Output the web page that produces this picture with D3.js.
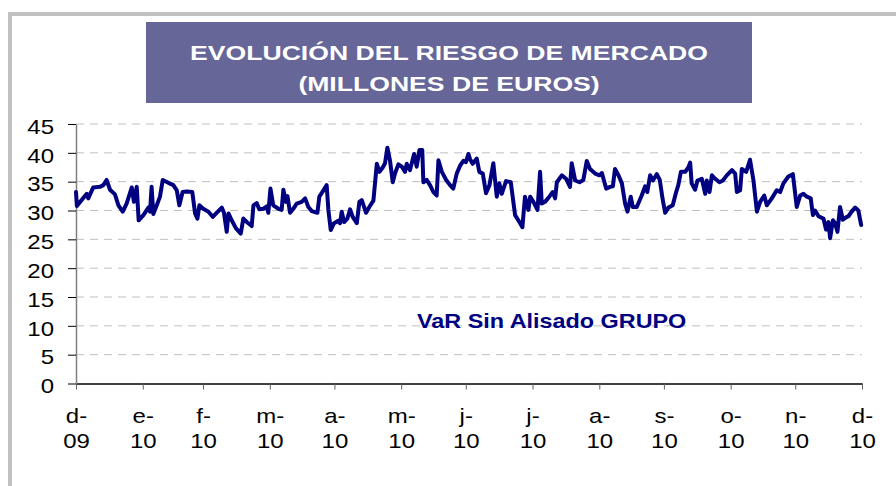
<!DOCTYPE html>
<html><head><meta charset="utf-8">
<script src="https://cdn.jsdelivr.net/npm/d3@7"></script>
<style>html,body{margin:0;padding:0;background:#fff;} svg{display:block;}</style>
</head><body><svg id="chart" width="896" height="486"></svg>
<script>
const titleLines = ["EVOLUCIÓN DEL RIESGO DE MERCADO", "(MILLONES DE EUROS)"];
const seriesName = "VaR Sin Alisado GRUPO";
const yTickValues = [0, 5, 10, 15, 20, 25, 30, 35, 40, 45];
const xTickMonths = ["d-", "e-", "f-", "m-", "a-", "m-", "j-", "j-", "a-", "s-", "o-", "n-", "d-"];
const xTickYears = ["09", "10", "10", "10", "10", "10", "10", "10", "10", "10", "10", "10", "10"];
const startDate = new Date(2009, 11, 31);
const endDate = new Date(2010, 11, 31);
// [days after 31-Dec-2009, VaR in millions of euros]
const varSeries = [
[0,33.2],[0.4,30.8],[5,32.9],[5.7,32.1],[8,34],[11.1,34.1],[12.7,34.4],[14.2,35.3],[15.8,33.6],[18.1,32.8],
[19.7,30.9],[21.7,29.8],[23.5,31.2],[25.9,34],[26.9,31.5],[28.2,34.1],[29.1,28.3],[31.3,29.2],[33.6,30.5],[34.4,29.8],
[35.1,34.1],[35.9,29.4],[37.5,30.9],[39,32.4],[40.3,35.3],[42.9,34.8],[45.2,34.4],[46.8,33.5],[48,30.9],[49.5,33.2],
[51.4,33.3],[54,33.2],[55.3,29.5],[56.4,28.6],[57.3,30.9],[59.1,30.3],[61.5,29.8],[63.5,28.9],[65.3,29.6],[67.7,30.5],
[68.7,29.6],[70,26.3],[70.8,29.5],[72.3,28.3],[74.3,26.9],[76.5,26],[77.7,28.6],[79.3,28],[81.6,27.3],[82.4,30.9],
[83.9,31.3],[85.1,30.2],[87,30.3],[88.6,30.7],[89.3,29.6],[90.3,33.8],[91.6,30.9],[94,30.3],[95.5,30.1],[96.3,33.6],
[97.5,31.5],[98.2,32.5],[99.4,29.6],[100.9,30.3],[102.5,31.2],[104.8,31.5],[106.4,32.1],[107.9,30.6],[109.5,29.9],[112.1,29.6],
[113,32.4],[114.9,33.5],[116.4,34.4],[117.2,30.1],[118.3,26.6],[119.8,27.8],[121.8,28.2],[122.6,27.8],[123.4,29.8],[124.5,28],
[126,28.6],[127.3,30.2],[128.5,28.9],[130.4,27.8],[131.6,31.5],[132.7,31.8],[134.7,29.6],[136.2,30.6],[138.1,31.7],[139.7,38.1],
[140.9,36.7],[142.5,37.5],[143.5,38.2],[144.6,40.9],[145.8,38.7],[147.1,34.9],[148.2,36.5],[149.7,38],[151.3,37.6],[152.8,36.7],
[153.6,38.1],[155.1,37],[157,39.8],[158.2,37.6],[159.5,40.5],[160.8,40.5],[161.3,34.9],[162.9,35.3],[164.4,34.4],[166,33.2],
[167.5,32.6],[168.3,38.7],[169.9,36.7],[171.9,35.3],[173.7,34.4],[175.2,33.8],[176.8,36.4],[178.4,37.8],[179.9,38.6],[181.1,38.4],
[182.2,39.8],[183,38.9],[184.2,38.1],[186.1,39],[187.3,36.7],[188.9,36.4],[190.4,33],[192,34.4],[193.8,38.2],[195.4,32.4],
[196.6,34.7],[197.7,32.9],[199.7,35.1],[201.9,34.9],[203.9,29.2],[205.9,28],[207.3,27.1],[208.5,32.4],[210.1,30.1],[210.9,32.4],
[212.4,31.5],[214.3,30.1],[215.5,36.7],[216.3,31.2],[217.8,31.5],[219.8,32.4],[221.4,33.2],[222.5,32.1],[223.3,34.9],[225.6,36.1],
[227.6,35.5],[229.4,34.1],[230.2,38.2],[231.8,35.2],[233.8,34.9],[235.6,35.3],[237.2,38.6],[238.7,37.2],[241.1,36.4],[243.1,36.1],
[244.2,36.5],[246.2,33.8],[248,34.1],[249.3,34.2],[250.3,37.2],[251.9,36.1],[253.5,34.7],[255,31.2],[256.1,29.8],[257.6,32.4],
[258.6,30.6],[260.4,30.6],[262.7,32.6],[264.3,34.2],[265.3,33.2],[266.6,36.1],[267.9,35.2],[269.7,36.3],[271.1,35.3],[272.4,32],
[273.6,29.6],[275.1,30.5],[277.1,30.9],[278.7,33.2],[279.7,34.4],[280.9,36.7],[282.9,36.7],[284.4,37.5],[285.2,38.3],[285.9,34.7],
[287.5,33.6],[288.6,35.2],[290.6,35.5],[292.2,32.9],[292.9,35.2],[294.2,33.2],[295.3,36.1],[296.8,35.5],[298.8,34.9],[300.4,35.2],
[302.2,36.1],[304.6,37],[306.1,36.4],[306.9,33.2],[308.4,33.5],[309.2,37.2],[311.2,36.7],[313,38.8],[314.6,35.2],[316.2,29.8],
[317.7,31.5],[319.6,32.6],[320.8,30.9],[323.1,32.1],[325.4,33.5],[327,33.2],[328.5,34.7],[330.8,35.9],[332.9,36.3],[334.7,30.6],
[336.3,32.6],[337.8,32.9],[339.4,32.4],[341.2,32.1],[342.2,29.2],[343.2,30],[344.8,29],[347.1,28.6],[348.3,26.7],[349.4,28],
[350.2,25.2],[351.5,28.3],[352.5,27.8],[353.6,26.3],[354.8,30.6],[356.1,28.4],[357.6,28.8],[358.7,29],[360.2,29.8],[361.8,30.5],
[363.3,30],[364.6,27.5]
];

const FONT = "'Liberation Sans', Arial, sans-serif";
const svg = d3.select("#chart");
const W = 896, H = 486;
const plot = {left: 76, right: 862, top: 124, bottom: 383.5};

svg.append("rect").attr("width", W).attr("height", H).attr("fill", "#fff");
// outer frame
svg.append("rect").attr("x", 10).attr("y", 14).attr("width", W + 20).attr("height", H + 20)
  .attr("fill", "none").attr("stroke", "#c0c0c0").attr("stroke-width", 4);

// title box
svg.append("rect").attr("x", 146).attr("y", 22).attr("width", 606).attr("height", 81).attr("fill", "#666699");
const titleY = [60, 90.7];
titleLines.forEach((t, i) => {
  svg.append("g").attr("transform", `translate(449,${titleY[i]})`)
    .append("text").attr("transform", "scale(1.33,1)")
    .attr("text-anchor", "middle").attr("font-family", FONT).attr("font-weight", "bold")
    .attr("font-size", 20).attr("fill", "#fff").text(t);
});

const x = d3.scaleTime().domain([startDate, endDate]).range([plot.left, plot.right]);
const y = d3.scaleLinear().domain([0, 45]).range([plot.bottom, plot.top]);

// gridlines
svg.append("g").selectAll("line").data(yTickValues.filter(v => v > 0)).join("line")
  .attr("x1", plot.left).attr("x2", plot.right)
  .attr("y1", d => y(d)).attr("y2", d => y(d))
  .attr("stroke", "#c0c0c0").attr("stroke-width", 1).attr("stroke-dasharray", "8,6");

// y axis
const gy = svg.append("g").attr("transform", `translate(${plot.left},0)`)
  .call(d3.axisLeft(y).tickValues(yTickValues).tickSize(8).tickSizeOuter(0));
gy.select(".domain").attr("stroke", "#808080").attr("stroke-width", 1.5);
gy.selectAll(".tick line").attr("stroke", "#000");
gy.selectAll(".tick text").attr("x", 0).attr("dy", "0.46em")
  .attr("transform", "translate(-22,0) scale(1.2,1)")
  .attr("font-family", FONT).attr("font-size", 20).attr("fill", "#000").attr("text-anchor", "end");

// x axis
const tickDates = d3.timeMonth.range(new Date(2010, 0, 1), new Date(2011, 0, 2)).map(d => d3.timeDay.offset(d, -1));
const gx = svg.append("g").attr("transform", `translate(0,${plot.bottom})`)
  .call(d3.axisBottom(x).tickValues(tickDates).tickSize(6).tickSizeOuter(0).tickFormat((d, i) => xTickMonths[i]));
gx.select(".domain").attr("stroke", "#000").attr("stroke-width", 1.3);
gx.selectAll(".tick line").attr("stroke", "#606060");
gx.selectAll(".tick text").each(function(d, i) {
  const t = d3.select(this);
  t.text(null).attr("y", null).attr("dy", null).attr("transform", "scale(1.2,1)")
    .attr("font-family", FONT).attr("font-size", 20).attr("fill", "#000").attr("text-anchor", "middle");
  t.append("tspan").attr("x", 0).attr("y", 423 - plot.bottom).text(xTickMonths[i]);
  t.append("tspan").attr("x", 0).attr("y", 448.5 - plot.bottom).text(xTickYears[i]);
});
gy.raise();

// series line
const line = d3.line()
  .x(d => x(new Date(startDate.getTime() + d[0] * 864e5)))
  .y(d => y(d[1]));
svg.append("path").datum(varSeries).attr("d", line)
  .attr("fill", "none").attr("stroke", "#000080").attr("stroke-width", 4)
  .attr("stroke-linejoin", "round").attr("stroke-linecap", "round");

// series label
svg.append("g").attr("transform", "translate(417,328)")
  .append("text").attr("transform", "scale(1.2,1)")
  .attr("font-family", FONT).attr("font-weight", "bold").attr("font-size", 19.5)
  .attr("fill", "#000080").text(seriesName);
</script></body></html>
